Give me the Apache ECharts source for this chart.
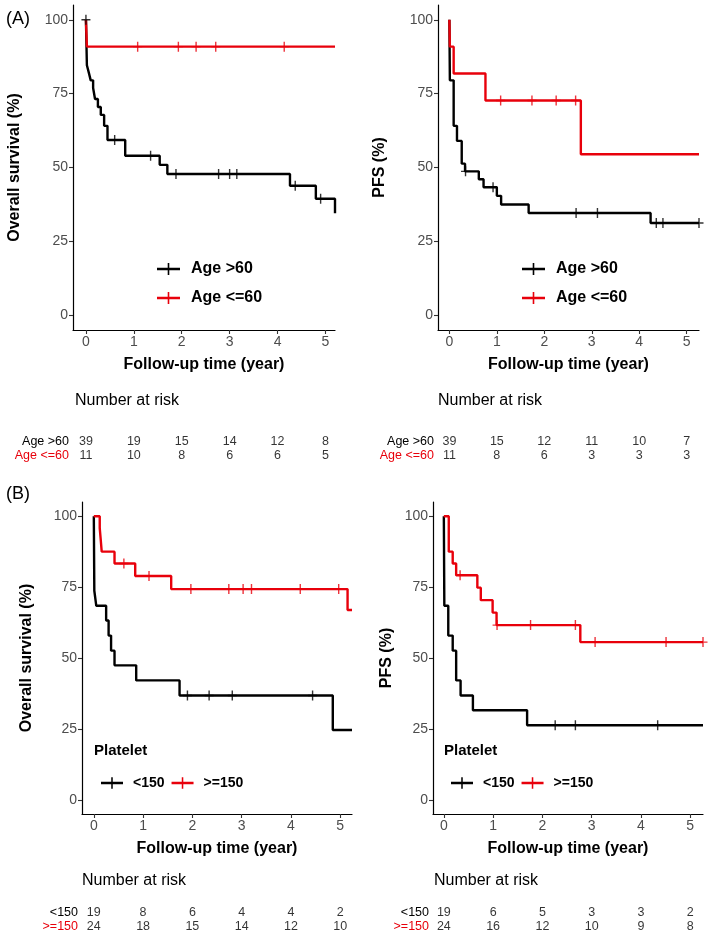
<!DOCTYPE html>
<html><head><meta charset="utf-8">
<script src="https://cdn.jsdelivr.net/npm/echarts@6/dist/echarts.min.js"></script>
<style>html,body{margin:0;padding:0;background:#fff}#c{width:709px;height:944px}</style>
</head><body><div id="c"></div>
<script>
// ---------- tick labels ----------
const xTicks = [0, 1, 2, 3, 4, 5];
const yTicks = [0, 25, 50, 75, 100];
const riskTimes = [0, 1, 2, 3, 4, 5];

// ---------- group names ----------
const ageGroups = ['Age >60', 'Age <=60'];
const pltGroups = ['<150', '>=150'];

// ---------- (A) Overall survival by age ----------
const osAgeOld = [[0,100],[0.02,84.6],[0.06,82.1],[0.10,79.5],[0.15,76.9],[0.19,73.2],[0.25,70.5],[0.31,67.8],[0.38,64.1],[0.45,59.3],[0.82,54.0],[1.54,50.9],[1.70,47.8],[4.26,43.8],[4.80,39.4],[5.20,34.5]];
const osAgeOldCens = [[0,100],[0.60,59.3],[1.35,54.0],[1.88,47.8],[2.77,47.8],[3.00,47.8],[3.15,47.8],[4.37,43.8],[4.90,39.4]];
const osAgeYoung = [[0,100],[0.02,90.9],[5.20,90.9]];
const osAgeYoungCens = [[1.08,90.9],[1.93,90.9],[2.30,90.9],[2.71,90.9],[4.14,90.9]];

// ---------- (A) PFS by age ----------
const pfsAgeOld = [[0,100],[0.01,79.5],[0.09,64.1],[0.16,59.0],[0.26,51.3],[0.33,48.7],[0.62,46.0],[0.72,43.3],[1.00,40.4],[1.09,37.5],[1.67,34.6],[4.24,31.2],[5.26,31.2]];
const pfsAgeOldCens = [[0.34,48.7],[0.92,43.3],[2.67,34.6],[3.12,34.6],[4.36,31.2],[4.50,31.2],[5.26,31.2]];
const pfsAgeYoung = [[0,100],[0.01,90.9],[0.09,81.8],[0.76,72.7],[2.77,54.5],[5.26,54.5]];
const pfsAgeYoungCens = [[1.08,72.7],[1.74,72.7],[2.25,72.7],[2.66,72.7]];

// ---------- (B) Overall survival by platelet ----------
const osPltLow = [[0,100],[0.01,73.7],[0.05,68.4],[0.25,63.2],[0.30,57.9],[0.35,52.6],[0.42,47.4],[0.86,42.1],[1.74,36.8],[4.85,24.6],[5.24,24.6]];
const osPltLowCens = [[1.90,36.8],[2.34,36.8],[2.81,36.8],[4.44,36.8]];
const osPltHigh = [[0,100],[0.12,95.8],[0.14,91.7],[0.16,87.5],[0.42,83.3],[0.84,78.9],[1.57,74.3],[5.15,66.9],[5.24,66.9]];
const osPltHighCens = [[0.61,83.3],[1.12,78.9],[1.97,74.3],[2.74,74.3],[3.03,74.3],[3.20,74.3],[4.19,74.3],[4.97,74.3]];

// ---------- (B) PFS by platelet ----------
const pfsPltLow = [[0,100],[0.01,68.4],[0.09,57.9],[0.18,52.6],[0.25,42.1],[0.34,36.8],[0.59,31.6],[1.69,26.3],[5.26,26.3]];
const pfsPltLowCens = [[2.26,26.3],[2.67,26.3],[4.34,26.3]];
const pfsPltHigh = [[0,100],[0.10,87.5],[0.18,83.3],[0.25,79.2],[0.68,74.8],[0.75,70.4],[0.99,66.0],[1.07,61.6],[2.77,55.6],[5.26,55.6]];
const pfsPltHighCens = [[0.33,79.2],[1.08,61.6],[1.76,61.6],[2.67,61.6],[3.07,55.6],[4.51,55.6],[5.26,55.6]];

// ---------- Number at risk ----------
const riskOsAgeOld = [39, 19, 15, 14, 12, 8];
const riskOsAgeYoung = [11, 10, 8, 6, 6, 5];
const riskPfsAgeOld = [39, 15, 12, 11, 10, 7];
const riskPfsAgeYoung = [11, 8, 6, 3, 3, 3];
const riskOsPltLow = [19, 8, 6, 4, 4, 2];
const riskOsPltHigh = [24, 18, 15, 14, 12, 10];
const riskPfsPltLow = [19, 6, 5, 3, 3, 2];
const riskPfsPltHigh = [24, 16, 12, 10, 9, 8];

// ---------- styling / layout ----------
const BLACK = '#000000', RED = '#e8000b';
const FONT = "'Liberation Sans', Arial, sans-serif";
const CENSOR = 'path://M0,4.3H9V5.7H0Z M3.8,0H5.2V10H3.8Z';
const LEGICON = 'path://M0,4.8H23V7.2H0Z M10.7,0H12.3V12H10.7Z';

const panels = [
  {grid:{left:73, top:5, width:262, height:325}, xmin:-0.27, xmax:5.2, yname:'Overall survival (%)', ygap:50,
   risk:{top:435}, groups:ageGroups,
   curves:[osAgeOld, osAgeYoung], cens:[osAgeOldCens, osAgeYoungCens], risks:[riskOsAgeOld, riskOsAgeYoung]},
  {grid:{left:438, top:5, width:261, height:325}, xmin:-0.24, xmax:5.26, yname:'PFS (%)', ygap:50,
   risk:{top:435}, groups:ageGroups,
   curves:[pfsAgeOld, pfsAgeYoung], cens:[pfsAgeOldCens, pfsAgeYoungCens], risks:[riskPfsAgeOld, riskPfsAgeYoung]},
  {grid:{left:82, top:502, width:270, height:312}, xmin:-0.24, xmax:5.24, yname:'Overall survival (%)', ygap:47,
   risk:{top:906}, groups:pltGroups,
   curves:[osPltLow, osPltHigh], cens:[osPltLowCens, osPltHighCens], risks:[riskOsPltLow, riskOsPltHigh]},
  {grid:{left:433, top:502, width:270, height:312}, xmin:-0.22, xmax:5.26, yname:'PFS (%)', ygap:38,
   risk:{top:906}, groups:pltGroups,
   curves:[pfsPltLow, pfsPltHigh], cens:[pfsPltLowCens, pfsPltHighCens], risks:[riskPfsPltLow, riskPfsPltHigh]}
];

const grids = [], xAxes = [], yAxes = [], series = [];
const redNames = [ageGroups[1], pltGroups[1]];

panels.forEach((p, i) => {
  grids.push(p.grid);
  xAxes.push({
    type:'value', gridIndex:i, min:p.xmin, max:p.xmax,
    axisLine:{show:true, onZero:false, lineStyle:{color:'#000', width:1.2}},
    axisTick:{show:true, length:4, customValues:xTicks, lineStyle:{color:'#333', width:1.1}},
    axisLabel:{customValues:xTicks, color:'#4d4d4d', fontSize:14, margin:5, fontFamily:FONT},
    splitLine:{show:false},
    name:'Follow-up time (year)', nameLocation:'middle', nameGap:27,
    nameTextStyle:{fontSize:16, fontWeight:'bold', color:'#000', fontFamily:FONT}
  });
  yAxes.push({
    type:'value', gridIndex:i, min:-5, max:105,
    axisLine:{show:true, onZero:false, lineStyle:{color:'#000', width:1.2}},
    axisTick:{show:true, length:4, customValues:yTicks, lineStyle:{color:'#333', width:1.1}},
    axisLabel:{customValues:yTicks, color:'#4d4d4d', fontSize:14, margin:5, fontFamily:FONT},
    splitLine:{show:false},
    name:p.yname, nameLocation:'middle', nameGap:p.ygap, nameRotate:90,
    nameTextStyle:{fontSize:16, fontWeight:'bold', color:'#000', fontFamily:FONT}
  });
  const colors = [BLACK, RED];
  p.curves.forEach((c, k) => {
    series.push({
      type:'line', name:p.groups[k], xAxisIndex:i, yAxisIndex:i, step:'end',
      data:c, showSymbol:false, symbol:'none', silent:true, animation:false,
      color:colors[k], lineStyle:{color:colors[k], width:2.4}, z:3+k
    });
    series.push({
      type:'scatter', name:'cens'+i+'_'+k, xAxisIndex:i, yAxisIndex:i,
      data:p.cens[k], symbol:CENSOR, symbolSize:[9,10], silent:true, animation:false,
      itemStyle:{color:colors[k]}, z:5+k
    });
  });
});

// risk-table grids
panels.forEach((p, i) => {
  const gi = 4 + i;
  grids.push({left:p.grid.left, width:p.grid.width, top:p.risk.top, height:28});
  xAxes.push({type:'value', gridIndex:gi, min:p.xmin, max:p.xmax,
    axisLine:{show:false}, axisTick:{show:false}, axisLabel:{show:false}, splitLine:{show:false}});
  yAxes.push({type:'category', gridIndex:gi, data:p.groups, inverse:true,
    axisLine:{show:false}, axisTick:{show:false}, splitLine:{show:false},
    axisLabel:{interval:0, margin:4, fontSize:12.5, fontFamily:FONT,
      color:(v) => redNames.indexOf(v) >= 0 ? RED : '#000'}});
  p.risks.forEach((r, k) => {
    series.push({
      type:'scatter', name:'risk'+i+'_'+k, xAxisIndex:gi, yAxisIndex:gi,
      data:riskTimes.map((t, j) => [t, p.groups[k], r[j]]),
      symbolSize:0, silent:true, animation:false,
      label:{show:true, position:'inside', formatter:(q) => String(q.value[2]),
        color:'#000', fontSize:12.5, fontFamily:FONT}
    });
  });
});

const legendBase = {
  icon:LEGICON, itemWidth:23, itemHeight:12, selectedMode:false,
  textStyle:{fontSize:16, fontWeight:'bold', color:'#000', fontFamily:FONT, lineHeight:16, padding:[0,0,0,6]}
};
const legends = [
  Object.assign({}, legendBase, {left:152, top:256, orient:'vertical', itemGap:13, data:ageGroups}),
  Object.assign({}, legendBase, {left:517, top:256, orient:'vertical', itemGap:13, data:ageGroups}),
  Object.assign({}, legendBase, {left:96, top:770, orient:'horizontal', itemGap:7, itemWidth:22,
    textStyle:Object.assign({}, legendBase.textStyle, {fontSize:14, padding:[0,0,0,5]}), data:pltGroups}),
  Object.assign({}, legendBase, {left:446, top:770, orient:'horizontal', itemGap:7, itemWidth:22,
    textStyle:Object.assign({}, legendBase.textStyle, {fontSize:14, padding:[0,0,0,5]}), data:pltGroups})
];

function txt(x, y, s, font) {
  return {type:'text', left:x, top:y, style:{text:s, font:font, fill:'#000'}};
}
const graphics = [
  txt(6, 10, '(A)', "18px " + FONT),
  txt(6, 485, '(B)', "18px " + FONT),
  txt(75, 393, 'Number at risk', "16px " + FONT),
  txt(438, 393, 'Number at risk', "16px " + FONT),
  txt(82, 873, 'Number at risk', "16px " + FONT),
  txt(434, 873, 'Number at risk', "16px " + FONT),
  txt(94, 743, 'Platelet', "bold 15px " + FONT),
  txt(444, 743, 'Platelet', "bold 15px " + FONT)
];

const chart = echarts.init(document.getElementById('c'), null, {renderer:'canvas'});
chart.setOption({
  backgroundColor:'#fff', animation:false,
  grid:grids, xAxis:xAxes, yAxis:yAxes, series:series, legend:legends, graphic:graphics
});
</script></body></html>
